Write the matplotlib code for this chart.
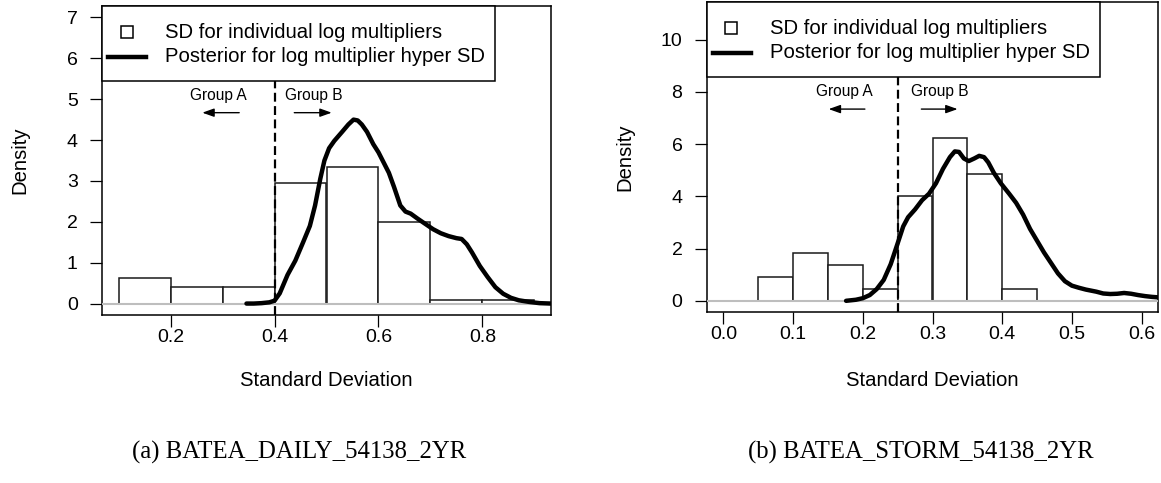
import numpy as np
import matplotlib
matplotlib.use("Agg")
import matplotlib.pyplot as plt
from matplotlib.patches import Rectangle
from matplotlib.lines import Line2D

plt.rcParams['font.family'] = ['Liberation Sans', 'DejaVu Sans']

# ---------------- data ----------------
# (a) daily
a_edges = [0.1, 0.2, 0.3, 0.4, 0.5, 0.6, 0.7, 0.8, 0.9]
a_dens = [0.63, 0.41, 0.41, 2.94, 3.35, 2.00, 0.08, 0.08]
a_post_x = [0.346, 0.36, 0.375, 0.39, 0.40, 0.41, 0.425, 0.44, 0.455, 0.468,
            0.478, 0.488, 0.496, 0.505, 0.515, 0.53, 0.542, 0.552, 0.56, 0.568,
            0.578, 0.59, 0.60, 0.61, 0.62, 0.63, 0.642, 0.652, 0.662, 0.675,
            0.69, 0.705, 0.72, 0.735, 0.75, 0.76, 0.77, 0.78, 0.795, 0.81,
            0.825, 0.84, 0.855, 0.87, 0.89, 0.91, 0.932]
a_post_y = [0.0, 0.0, 0.01, 0.03, 0.07, 0.25, 0.70, 1.05, 1.50, 1.90,
            2.40, 3.05, 3.50, 3.80, 3.98, 4.20, 4.38, 4.50, 4.48, 4.38,
            4.20, 3.90, 3.70, 3.45, 3.20, 2.85, 2.40, 2.25, 2.20, 2.08,
            1.95, 1.82, 1.72, 1.65, 1.60, 1.58, 1.45, 1.25, 0.92, 0.65,
            0.40, 0.24, 0.14, 0.08, 0.04, 0.01, 0.0]
a_split = 0.4

# (b) storm
b_edges = [0.05, 0.10, 0.15, 0.20, 0.25, 0.30, 0.35, 0.40, 0.45]
b_dens = [0.92, 1.83, 1.37, 0.46, 4.02, 6.22, 4.87, 0.46]
b_post_x = [0.176, 0.19, 0.20, 0.21, 0.22, 0.23, 0.24, 0.25, 0.258, 0.265,
            0.275, 0.285, 0.295, 0.305, 0.315, 0.325, 0.332, 0.338, 0.345, 0.352,
            0.36, 0.367, 0.374, 0.38, 0.388, 0.398, 0.41, 0.42, 0.43, 0.44,
            0.45, 0.46, 0.47, 0.48, 0.49, 0.50, 0.51, 0.52, 0.535, 0.545,
            0.555, 0.565, 0.575, 0.585, 0.595, 0.605, 0.615, 0.63]
b_post_y = [0.0, 0.04, 0.10, 0.22, 0.45, 0.80, 1.40, 2.20, 2.85, 3.20,
            3.50, 3.85, 4.10, 4.50, 5.05, 5.50, 5.72, 5.70, 5.45, 5.35,
            5.45, 5.55, 5.50, 5.30, 4.90, 4.50, 4.10, 3.75, 3.30, 2.75,
            2.30, 1.85, 1.45, 1.05, 0.75, 0.58, 0.50, 0.43, 0.35, 0.28,
            0.26, 0.27, 0.30, 0.27, 0.22, 0.18, 0.15, 0.12]
b_split = 0.25

W, H = 1161, 483
fig = plt.figure(figsize=(W / 100, H / 100), dpi=100)


def px(x, y):
    return x / W, 1 - y / H


def panel(rect_px, edges, dens, cx, cy, split, xlim, ylim, xticks, yticks,
          grp_a, grp_b, caption, cap_x, dens_x):
    x0, y0, x1, y1 = rect_px
    ax = fig.add_axes([x0 / W, 1 - y1 / H, (x1 - x0) / W, (y1 - y0) / H])
    edges = np.array(edges)
    ax.bar(edges[:-1], dens, width=np.diff(edges), align='edge',
           facecolor='white', edgecolor='#1a1a1a', linewidth=1.1, zorder=2)
    ax.axhline(0, color='#bebebe', lw=1.5, zorder=3)
    ax.axvline(split, color='black', lw=1.6, linestyle=(0, (4, 2)), zorder=3)
    ax.plot(cx, cy, color='black', lw=3.2, zorder=4, solid_capstyle='round',
            solid_joinstyle='round')
    ax.set_xlim(*xlim)
    ax.set_ylim(*ylim)
    ax.set_xticks(xticks)
    ax.set_yticks(yticks)
    ax.set_yticklabels([str(v) for v in yticks])
    ax.set_xticklabels(['%.1f' % v for v in xticks])
    ax.tick_params(direction='out', length=8.5, width=0.9, labelsize=14,
                   colors='black')
    ax.tick_params(axis='y', pad=9)
    ax.tick_params(axis='x', pad=1.5)
    for s in ax.spines.values():
        s.set_linewidth(1.1)

    # legend box (pixel offsets from top-left of the plot box)
    wpx, hpx = x1 - x0, y1 - y0

    def af(dx, dy):
        return dx / wpx, 1 - dy / hpx

    bx, by = af(393, 75)
    ax.add_patch(Rectangle((0, by), bx, 1 - by, transform=ax.transAxes,
                           facecolor='white', edgecolor='black', lw=1.1,
                           zorder=6, clip_on=False))
    sx, sy = af(24.5, 26)
    ax.plot([sx], [sy], marker='s', ms=9, mfc='white', mec='black', mew=1.1,
            transform=ax.transAxes, zorder=7, clip_on=False)
    l0, ly = af(6, 51)
    l1, _ = af(44, 51)
    ax.add_line(Line2D([l0, l1], [ly, ly], color='black', lw=3.2,
                       transform=ax.transAxes, zorder=7))
    tx, ty1 = af(63, 26)
    _, ty2 = af(63, 51)
    ax.text(tx, ty1, 'SD for individual log multipliers', transform=ax.transAxes,
            fontsize=14.6, va='center', ha='left', zorder=8)
    ax.text(tx, ty2, 'Posterior for log multiplier hyper SD', transform=ax.transAxes,
            fontsize=14.6, va='center', ha='left', zorder=8)

    # group annotations
    for (gx, gy, ax0, ax1, ay, lab) in (grp_a + ('Group A',), grp_b + ('Group B',)):
        ax.text(gx, gy, lab, fontsize=11.2, ha='center', va='center', zorder=8)
        ax.annotate('', xy=(ax1, ay), xytext=(ax0, ay),
                    arrowprops=dict(arrowstyle='-|>,head_length=0.7,head_width=0.25',
                                    color='black', lw=1.0, mutation_scale=10,
                                    shrinkA=0, shrinkB=0), zorder=8)

    xc = (x0 + x1) / 2
    fig.text(*px(xc, 381), 'Standard Deviation', fontsize=14.6, ha='center', va='center')
    fig.text(*px(dens_x, (y0 + y1) / 2), 'Density', fontsize=14.6, rotation=90,
             ha='center', va='center')
    fig.text(*px(cap_x, 452), caption, fontsize=17.8, ha='center', va='center',
             family=['Liberation Serif', 'DejaVu Serif'])
    return ax


panel((102, 6, 551, 315), a_edges, a_dens, a_post_x, a_post_y, a_split,
      (0.068, 0.932), (-0.28, 7.28), [0.2, 0.4, 0.6, 0.8], list(range(0, 8)),
      (0.2925, 5.10, 0.332, 0.261, 4.67), (0.476, 5.10, 0.438, 0.510, 4.67),
      '(a) BATEA_DAILY_54138_2YR', 299, 20)

panel((706.7, 2, 1158.3, 312.3), b_edges, b_dens, b_post_x, b_post_y, b_split,
      (-0.024, 0.624), (-0.44, 11.44), [0.0, 0.1, 0.2, 0.3, 0.4, 0.5, 0.6],
      [0, 2, 4, 6, 8, 10],
      (0.174, 8.02, 0.203, 0.151, 7.34), (0.311, 8.02, 0.284, 0.336, 7.34),
      '(b) BATEA_STORM_54138_2YR', 921, 624.5)

fig.savefig('out.png', dpi=100)
